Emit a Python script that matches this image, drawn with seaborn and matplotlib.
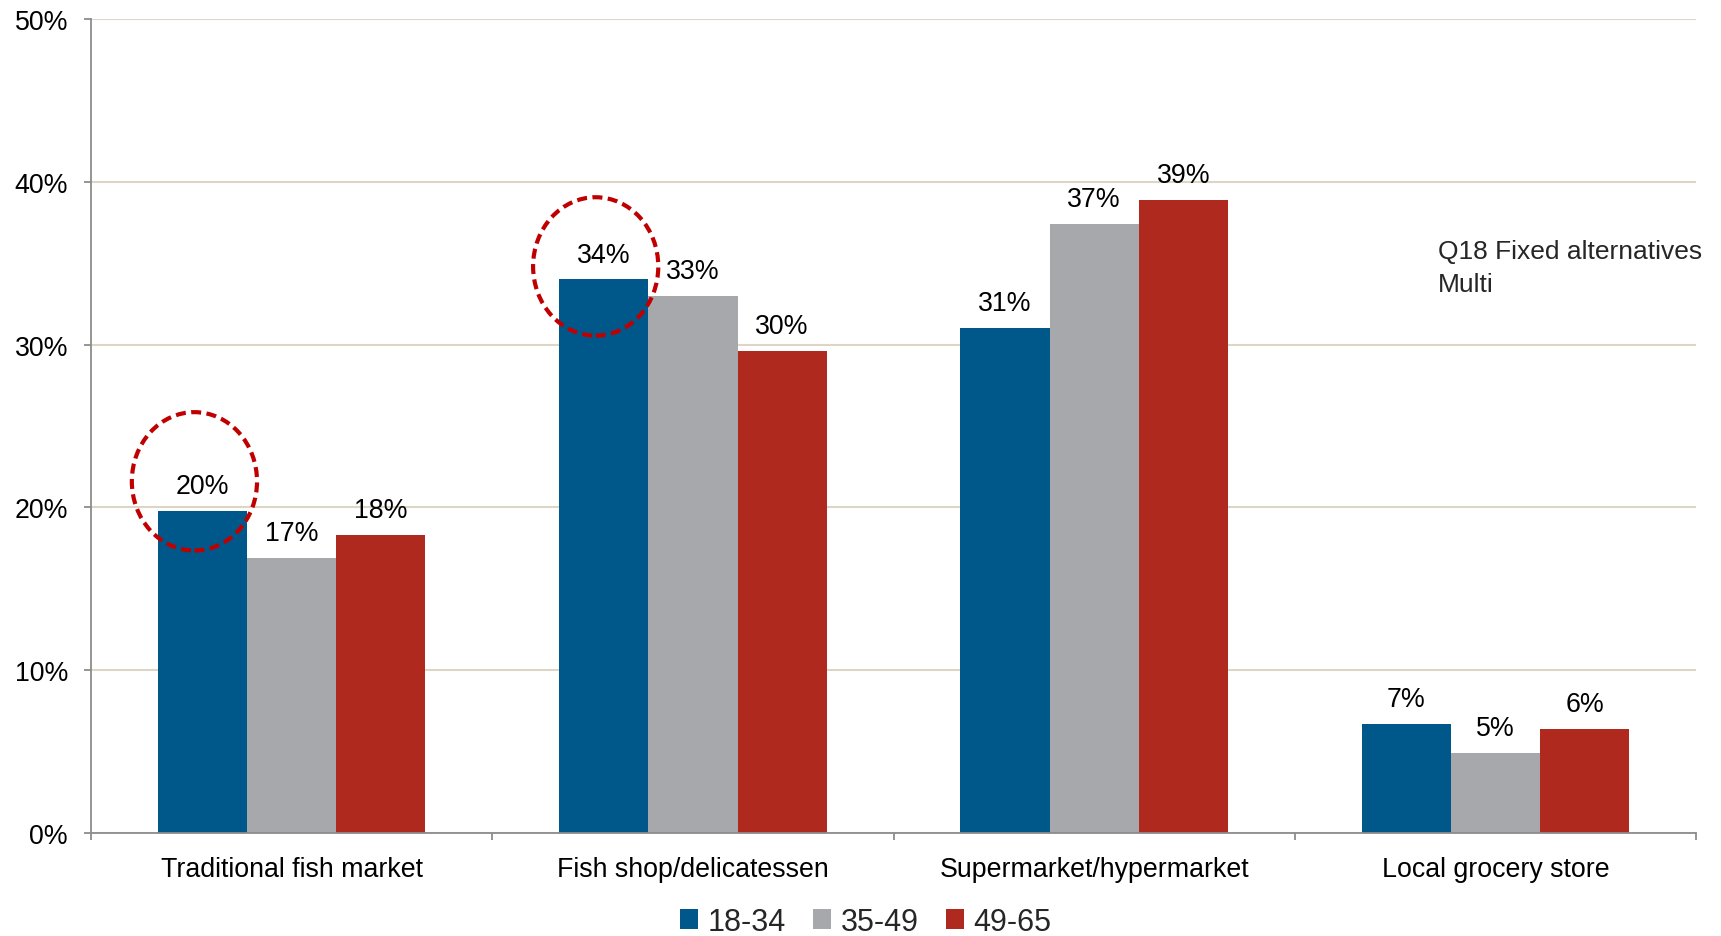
import matplotlib
matplotlib.use("Agg")
import matplotlib.pyplot as plt
import numpy as np
import pandas as pd
import seaborn as sns
from matplotlib.patches import Ellipse
from matplotlib.ticker import FixedLocator, PercentFormatter

# Purchase channel by age group (share of respondents, %)
categories = ["Traditional fish market", "Fish shop/delicatessen",
              "Supermarket/hypermarket", "Local grocery store"]
age_groups = ["18-34", "35-49", "49-65"]
share_18_34 = [19.8, 34.0, 31.0, 6.7]
share_35_49 = [16.9, 33.0, 37.4, 4.9]
share_49_65 = [18.3, 29.6, 38.9, 6.4]
palette = ["#00578A", "#A7A8AC", "#B0291E"]
y_ticks = [0, 10, 20, 30, 40, 50]
note_lines = ["Q18 Fixed alternatives", "Multi"]

# highlighted bars: (category index, age group index, ring centre in %)
highlights = [(0, 0, 21.6), (1, 0, 34.8)]

values = {"18-34": share_18_34, "35-49": share_35_49, "49-65": share_49_65}
df = pd.DataFrame(
    [(c, g, values[g][i]) for g in age_groups for i, c in enumerate(categories)],
    columns=["category", "age", "share"],
)

sns.set_theme(style="white")
plt.rcParams["font.family"] = ["Liberation Sans", "DejaVu Sans"]

fig = plt.figure(figsize=(17.21, 9.37), dpi=100)
ax = fig.add_axes([0.0529, 0.1099, 0.9326, 0.8688])

sns.barplot(data=df, x="category", y="share", hue="age",
            order=categories, hue_order=age_groups, palette=palette,
            width=0.667, saturation=1, errorbar=None, ax=ax,
            linewidth=0)

# value labels above each bar
for container in ax.containers:
    labels = [f"{b.get_height():.0f}%" for b in container]
    ax.bar_label(container, labels=labels, padding=8.5, fontsize=19.3,
                 color="black")

# dashed rings around highlighted values
for ci, gi, yc in highlights:
    bar = ax.containers[gi][ci]
    xc = bar.get_x() + bar.get_width() / 2 - 0.02
    ring = Ellipse((xc, yc), width=0.312, height=8.5, fill=False,
                   edgecolor="#C00000", linewidth=3.0,
                   linestyle=(0, (2.4, 1.3)), zorder=5, clip_on=False)
    ax.add_patch(ring)

ax.set_xlim(-0.5, 3.5)
ax.set_ylim(0, 50)
ax.set_xlabel("")
ax.set_ylabel("")

ax.yaxis.set_major_locator(FixedLocator(y_ticks))
ax.yaxis.set_major_formatter(PercentFormatter(decimals=0))
ax.yaxis.grid(True, color="#DDD6C6", linewidth=1.5)
ax.xaxis.grid(False)
ax.set_axisbelow(True)

ax.xaxis.set_minor_locator(FixedLocator(np.arange(-0.5, 4.0, 1.0)))
ax.tick_params(axis="x", which="major", length=0, pad=16.5,
               labelsize=19.3, labelcolor="black")
ax.tick_params(axis="x", which="minor", length=5, width=1.3,
               color="#8C8C8C", direction="out", bottom=True)
ax.tick_params(axis="y", which="major", length=5, width=1.3,
               color="#8C8C8C", direction="out", left=True, pad=11.5,
               labelsize=19.3, labelcolor="black")

for side in ["top", "right"]:
    ax.spines[side].set_visible(False)
for side in ["left", "bottom"]:
    ax.spines[side].set_color("#8C8C8C")
    ax.spines[side].set_linewidth(1.3)

handles, labels = ax.get_legend_handles_labels()
ax.get_legend().remove()
fig.legend(handles, labels, loc="center", bbox_to_anchor=(0.503, 0.015),
           ncol=3, frameon=False, fontsize=22, handlelength=0.6,
           handleheight=0.6, handletextpad=0.3, columnspacing=0.9,
           borderpad=0)

fig.text(0.8356, 0.7236, note_lines[0], fontsize=19, va="baseline")
fig.text(0.8356, 0.6884, note_lines[1], fontsize=19, va="baseline")

fig.savefig("out.png", dpi=100, facecolor="white")
